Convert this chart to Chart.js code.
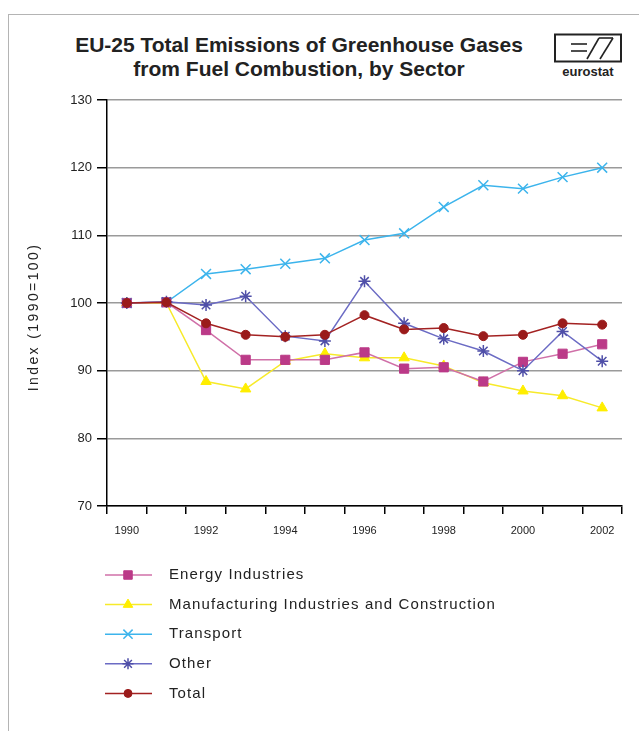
<!DOCTYPE html>
<html>
<head>
<meta charset="utf-8">
<script src="https://cdn.jsdelivr.net/npm/chart.js@4.4.1/dist/chart.umd.min.js"></script>
<style>
  body { margin: 0; background: #fff; font-family: "Liberation Sans", Arial, sans-serif; }
  #wrap { position: relative; width: 639px; height: 731px; overflow: hidden; }
  #frame { position: absolute; left: 8px; top: 14px; width: 700px; height: 800px; border: 1.5px solid #b4b4b4; }
  #title { position: absolute; left: 0; top: 33px; width: 598px; text-align: center;
           font-weight: bold; font-size: 21px; line-height: 24px; color: #222; }
  #logo { position: absolute; left: 553px; top: 33px; }
  canvas { position: absolute; left: 0; top: 0; }
</style>
</head>
<body>
<div id="wrap">
  <div id="frame"></div>
  <div id="title">EU-25 Total Emissions of Greenhouse Gases<br>from Fuel Combustion, by Sector</div>
  <svg id="logo" width="72" height="46" viewBox="0 0 72 46">
    <rect x="2" y="1.5" width="66" height="27" fill="none" stroke="#222" stroke-width="2"/>
    <line x1="18" y1="11" x2="34" y2="11" stroke="#222" stroke-width="1.6"/>
    <line x1="18" y1="18" x2="34" y2="18" stroke="#222" stroke-width="1.6"/>
    <line x1="34" y1="26" x2="46" y2="5" stroke="#222" stroke-width="1.6"/>
    <line x1="47" y1="26" x2="60" y2="5" stroke="#222" stroke-width="1.6"/>
    <line x1="46" y1="5" x2="60" y2="5" stroke="#222" stroke-width="1.6"/>
    <text x="35" y="43" text-anchor="middle" font-family="Liberation Sans, Arial" font-weight="bold" font-size="13" fill="#222">eurostat</text>
  </svg>
  <canvas id="myChart" width="639" height="731"></canvas>
</div>

<script>
// data
const years = ['1990', '1991', '1992', '1993', '1994', '1995', '1996', '1997', '1998', '1999', '2000', '2001', '2002'];
const energy = [100, 100.1, 96.0, 91.6, 91.6, 91.6, 92.7, 90.3, 90.5, 88.4, 91.3, 92.5, 93.9];
const manufacturing = [100, 100, 88.4, 87.3, 91.4, 92.5, 91.9, 91.9, 90.7, 88.2, 87.0, 86.3, 84.5];
const transport = [100, 100.1, 104.3, 105.0, 105.8, 106.6, 109.3, 110.3, 114.2, 117.4, 116.9, 118.6, 120.0];
const other = [100, 100.2, 99.7, 101.0, 95.1, 94.4, 103.2, 97.0, 94.7, 92.9, 90.0, 95.8, 91.4];
const total = [100, 100.1, 97.0, 95.3, 95.0, 95.3, 98.2, 96.1, 96.3, 95.1, 95.3, 97.0, 96.8];
const yTicks = [70, 80, 90, 100, 110, 120, 130];
const yTitle = 'Index (1990=100)';

// legend drawn below the plot, line sample + marker like the original
const legendBelow = {
    id: 'legendBelow',
    afterDraw(chart) {
        const ctx = chart.ctx;
        const sets = chart.data.datasets;
        ctx.save();
        for (let i = 0; i < sets.length; i++) {
            const ds = sets[i];
            const y = 575 + i * 29.6;
            ctx.strokeStyle = ds.borderColor;
            ctx.lineWidth = 1.5;
            ctx.beginPath();
            ctx.moveTo(105, y);
            ctx.lineTo(152, y);
            ctx.stroke();
            ctx.fillStyle = ds.pointBackgroundColor;
            ctx.strokeStyle = ds.pointBorderColor;
            ctx.lineWidth = ds.pointBorderWidth;
            Chart.helpers.drawPoint(ctx, {
                pointStyle: ds.pointStyle,
                radius: ds.pointRadius - 0.5,
                rotation: 0,
                borderWidth: ds.pointBorderWidth
            }, 128, y);
            ctx.fillStyle = '#222';
            ctx.font = '15px "Liberation Sans", Arial, sans-serif';
            ctx.letterSpacing = '1.1px';
            ctx.textBaseline = 'middle';
            ctx.textAlign = 'left';
            ctx.fillText(ds.label, 169, y);
            ctx.letterSpacing = '0px';
        }

        // y axis title, spaced out like the original
        ctx.translate(34, 317);
        ctx.rotate(-Math.PI / 2);
        ctx.font = '14px "Liberation Sans", Arial, sans-serif';
        ctx.letterSpacing = '2.4px';
        ctx.textAlign = 'center';
        ctx.textBaseline = 'middle';
        ctx.fillStyle = '#222';
        ctx.fillText(yTitle, 0, 0);
        ctx.restore();
    }
};

const ctx = document.getElementById('myChart').getContext('2d');
const myChart = new Chart(ctx, {
    type: 'line',
    data: {
        labels: years,
        datasets: [
            {
                label: 'Energy Industries',
                data: energy,
                borderColor: '#d070a8',
                pointBackgroundColor: '#bb3a88',
                pointBorderColor: '#bb3a88',
                pointBorderWidth: 1,
                pointStyle: 'rect',
                pointRadius: 6.5,
                borderWidth: 1.5,
                order: 3
            },
            {
                label: 'Manufacturing Industries and Construction',
                data: manufacturing,
                borderColor: '#f7ea2a',
                pointBackgroundColor: '#ffee00',
                pointBorderColor: '#ffee00',
                pointBorderWidth: 1,
                pointStyle: 'triangle',
                pointRadius: 6,
                borderWidth: 1.5,
                order: 4
            },
            {
                label: 'Transport',
                data: transport,
                borderColor: '#3cb4ec',
                pointBackgroundColor: '#3cb4ec',
                pointBorderColor: '#3cb4ec',
                pointBorderWidth: 1.5,
                pointStyle: 'crossRot',
                pointRadius: 7,
                borderWidth: 1.5,
                order: 5
            },
            {
                label: 'Other',
                data: other,
                borderColor: '#6b6bc4',
                pointBackgroundColor: '#4f4fa8',
                pointBorderColor: '#4f4fa8',
                pointBorderWidth: 1.5,
                pointStyle: 'star',
                pointRadius: 6,
                borderWidth: 1.5,
                order: 2
            },
            {
                label: 'Total',
                data: total,
                borderColor: '#a32222',
                pointBackgroundColor: '#9a1b1b',
                pointBorderColor: '#9a1b1b',
                pointBorderWidth: 1,
                pointStyle: 'circle',
                pointRadius: 4.5,
                borderWidth: 1.5,
                order: 1
            }
        ]
    },
    options: {
        responsive: false,
        animation: false,
        layout: { padding: { left: 22, top: 100, right: 17, bottom: 195 } },
        plugins: {
            legend: { display: false },
            tooltip: { enabled: false }
        },
        elements: { line: { tension: 0 } },
        scales: {
            x: {
                type: 'category',
                offset: true,
                afterFit: function (scale) { scale.height = 30; },
                grid: {
                    display: true,
                    drawOnChartArea: false,
                    drawTicks: true,
                    tickLength: 8,
                    offset: true,
                    color: '#000',
                    tickColor: '#000',
                    lineWidth: 1.5
                },
                border: { display: true, color: '#000', width: 1.5 },
                ticks: {
                    autoSkip: false,
                    maxRotation: 0,
                    padding: 10,
                    color: '#222',
                    font: { family: '"Liberation Sans", Arial, sans-serif', size: 11 },
                    callback: function (v, i) { return i % 2 === 0 ? years[i] : ''; }
                }
            },
            y: {
                min: 70,
                max: 130,
                afterFit: function (scale) { scale.width = 85; },
                afterBuildTicks: function (scale) { scale.ticks = yTicks.map(v => ({ value: v })); },
                grid: {
                    color: '#9a9a9a',
                    lineWidth: 1.5,
                    tickLength: 10,
                    tickColor: '#000'
                },
                border: { display: true, color: '#000', width: 1.5 },
                ticks: {
                    padding: 5,
                    color: '#222',
                    font: { family: '"Liberation Sans", Arial, sans-serif', size: 13 }
                }
            }
        }
    },
    plugins: [legendBelow]
});
</script>
</body>
</html>
